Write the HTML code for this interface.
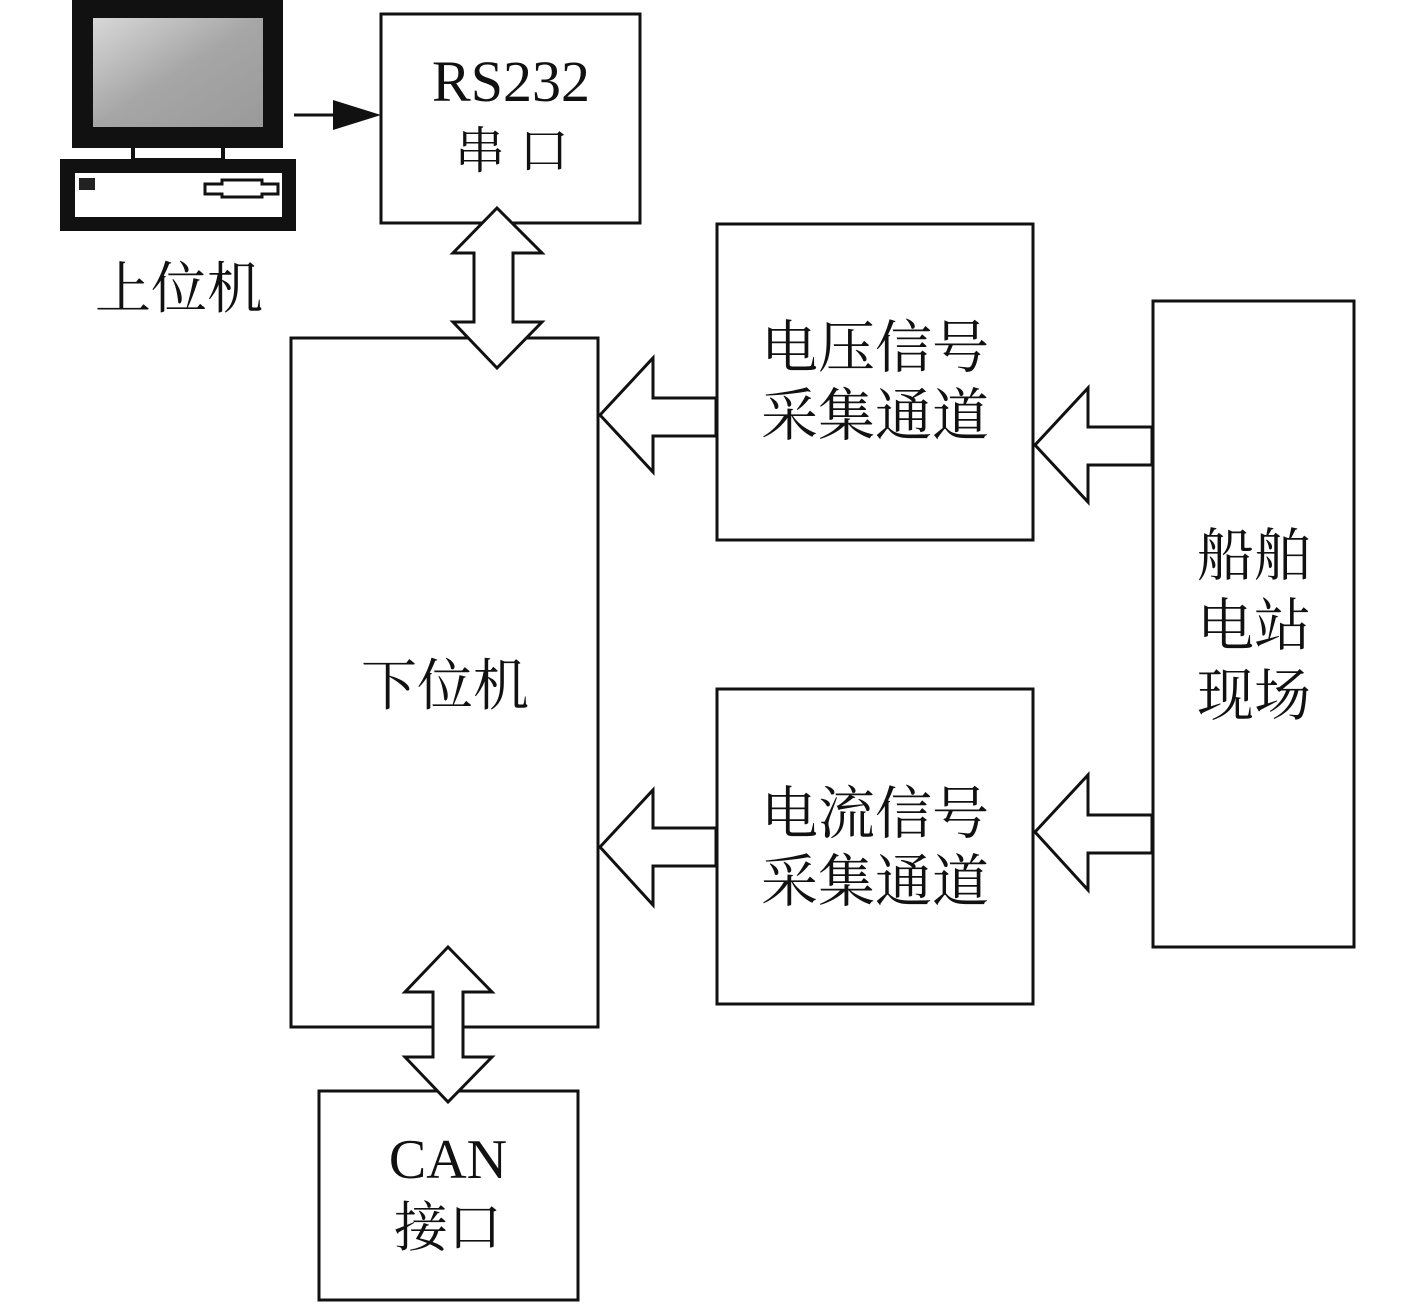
<!DOCTYPE html>
<html><head><meta charset="utf-8"><style>
html,body{margin:0;padding:0;background:#fff}
text{font-family:"Liberation Serif","Noto Serif CJK SC",serif;fill:#111}
</style></head><body>
<svg width="1417" height="1303" viewBox="0 0 1417 1303" xmlns="http://www.w3.org/2000/svg">
<defs><linearGradient id="g" x1="0" y1="0" x2="1" y2="1"><stop offset="0" stop-color="#d8d8d8"/><stop offset="0.5" stop-color="#a6a6a6"/><stop offset="1" stop-color="#9a9a9a"/></linearGradient></defs>
<rect x="72" y="0" width="211" height="148" fill="#111"/>
<rect x="93" y="18" width="170" height="109" fill="url(#g)"/>
<rect x="133" y="146" width="90" height="14" fill="#fff" stroke="#111" stroke-width="4"/>
<rect x="60" y="159" width="236" height="72" fill="#111"/>
<rect x="75" y="173" width="207" height="44" fill="#fff"/>
<rect x="79" y="178" width="16" height="12" fill="#222"/>
<path d="M205 184 H222 V180 H262 V184 H278 V194 H262 V197 H222 V194 H205 Z" fill="#fff" stroke="#111" stroke-width="3"/>
<text x="95" y="308" font-size="56">上位机</text>
<line x1="294" y1="115" x2="340" y2="115" stroke="#111" stroke-width="3"/>
<polygon points="333,100 381,115 333,130" fill="#111"/>
<g fill="#fff" stroke="#111" stroke-width="3">
<rect x="381" y="14" width="259" height="209"/>
<rect x="291" y="338" width="307" height="689"/>
<rect x="717" y="224" width="316" height="316"/>
<rect x="717" y="689" width="316" height="315"/>
<rect x="1153" y="301" width="201" height="646"/>
<rect x="319" y="1091" width="259" height="209"/>
<polygon points="497,208 542,253 513,253 513,322 542,322 497,368 453,322 474,322 474,253 453,253"/>
<polygon points="448,947 492,992 463,992 463,1057 492,1057 448,1102 405,1057 433,1057 433,992 405,992"/>
<polygon points="600,415 653,358 653,398 716,398 716,436 653,436 653,472"/>
<polygon points="600,847 653,790 653,828 716,828 716,866 653,866 653,905"/>
<polygon points="1035,445 1088,388 1088,427 1152,427 1152,465 1088,465 1088,502"/>
<polygon points="1035,832 1088,775 1088,815 1152,815 1152,853 1088,853 1088,890"/>
</g>
<text x="511" y="101" font-size="58" text-anchor="middle">RS232</text>
<text x="519" y="168" font-size="50" text-anchor="middle" letter-spacing="14">串口</text>
<text x="445" y="705" font-size="56" text-anchor="middle">下位机</text>
<text x="875" y="367" font-size="57" text-anchor="middle">电压信号</text>
<text x="875" y="435" font-size="57" text-anchor="middle">采集通道</text>
<text x="875" y="833" font-size="57" text-anchor="middle">电流信号</text>
<text x="875" y="901" font-size="57" text-anchor="middle">采集通道</text>
<text x="1254" y="575" font-size="57" text-anchor="middle">船舶</text>
<text x="1254" y="645" font-size="57" text-anchor="middle">电站</text>
<text x="1254" y="715" font-size="57" text-anchor="middle">现场</text>
<text x="448" y="1178" font-size="56" text-anchor="middle">CAN</text>
<text x="448" y="1246" font-size="54" text-anchor="middle">接口</text>
</svg>
</body></html>
